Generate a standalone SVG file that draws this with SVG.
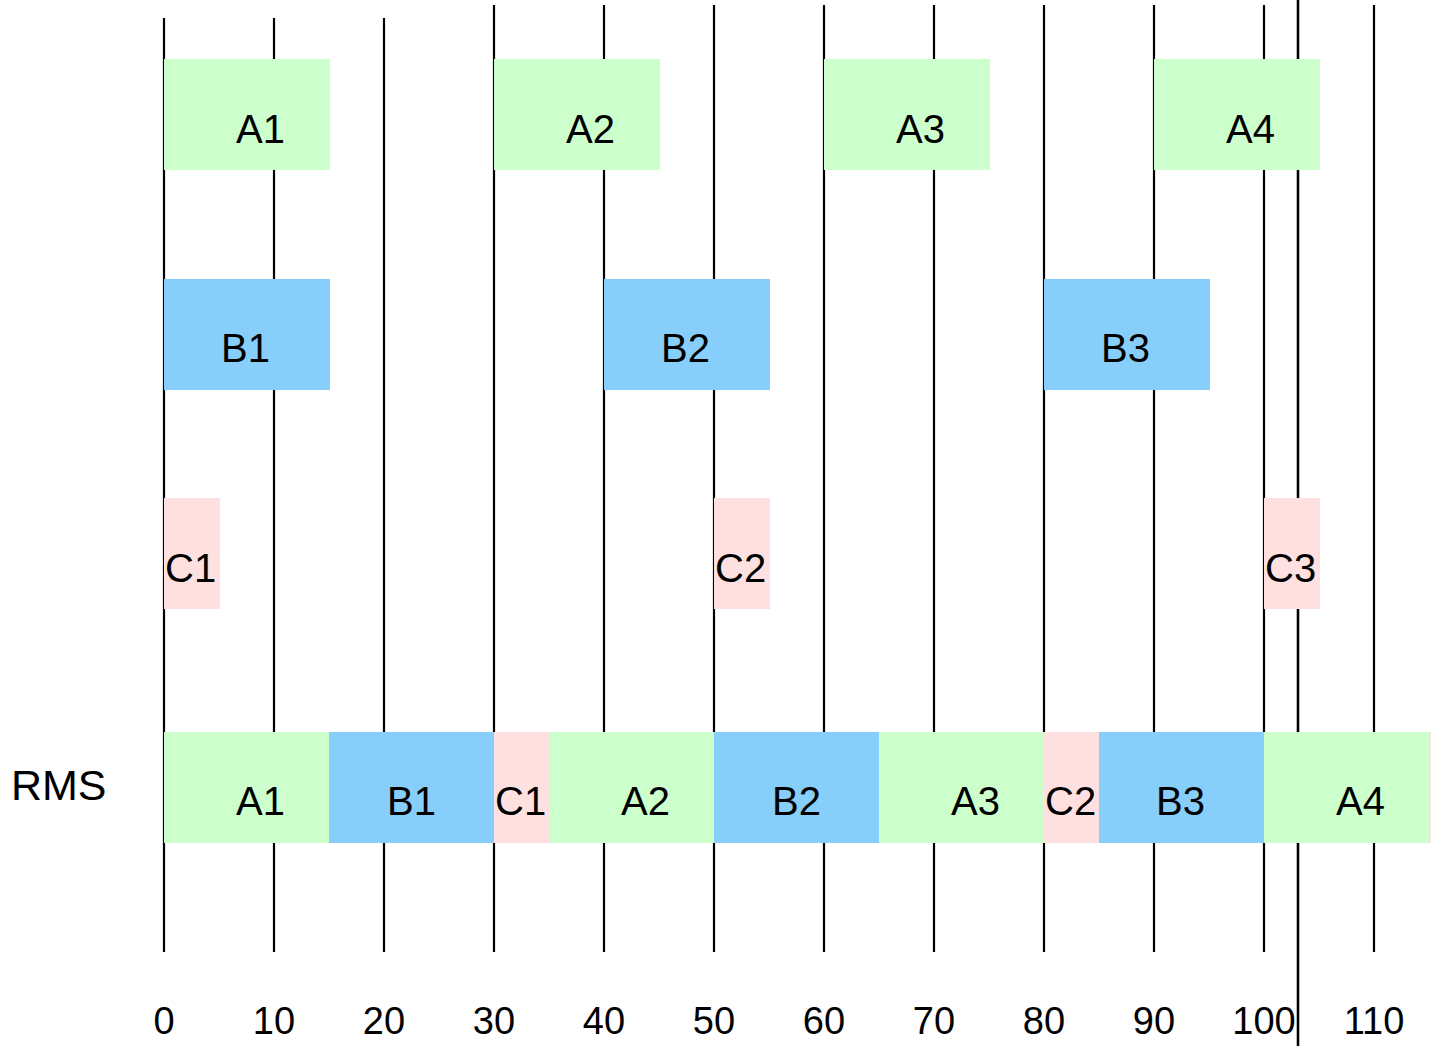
<svg xmlns="http://www.w3.org/2000/svg" width="1431" height="1046" viewBox="0 0 1431 1046">
<style>
.grid line{stroke:#000;stroke-width:2.2}
.a{fill:#CCFFCC}
.b{fill:#87CEFA}
.c{fill:#FFE0E0}
text{font-family:"Liberation Sans",Arial,sans-serif;fill:#000}
.lbl{font-size:40px}
.ax{font-size:38px;text-anchor:middle}
</style>
<rect width="1431" height="1046" fill="#fff"/>
<g id="connectors" class="grid">
<line x1="164" y1="18" x2="164" y2="952"/>
<line x1="274" y1="18" x2="274" y2="952"/>
<line x1="384" y1="18" x2="384" y2="952"/>
<line x1="494" y1="5" x2="494" y2="952"/>
<line x1="604" y1="5" x2="604" y2="952"/>
<line x1="714" y1="5" x2="714" y2="952"/>
<line x1="824" y1="5" x2="824" y2="952"/>
<line x1="934" y1="5" x2="934" y2="952"/>
<line x1="1044" y1="5" x2="1044" y2="952"/>
<line x1="1154" y1="5" x2="1154" y2="952"/>
<line x1="1264" y1="5" x2="1264" y2="952"/>
<line x1="1374" y1="5" x2="1374" y2="952"/>
<line x1="1298" y1="0" x2="1298" y2="1046" style="stroke-width:2.6"/>
</g>
<g id="A1"><rect class="a" x="164" y="59" width="166" height="111"/><text class="lbl" x="236" y="143">A1</text></g>
<g id="A2"><rect class="a" x="494" y="59" width="166" height="111"/><text class="lbl" x="566" y="143">A2</text></g>
<g id="A3"><rect class="a" x="824" y="59" width="166" height="111"/><text class="lbl" x="896" y="143">A3</text></g>
<g id="A4"><rect class="a" x="1154" y="59" width="166" height="111"/><text class="lbl" x="1226" y="143">A4</text></g>
<g id="B1"><rect class="b" x="164" y="279" width="166" height="111"/><text class="lbl" x="221" y="362">B1</text></g>
<g id="B2"><rect class="b" x="604" y="279" width="166" height="111"/><text class="lbl" x="661" y="362">B2</text></g>
<g id="B3"><rect class="b" x="1044" y="279" width="166" height="111"/><text class="lbl" x="1101" y="362">B3</text></g>
<g id="C1"><rect class="c" x="164" y="498" width="56" height="111"/><text class="lbl" x="165" y="582">C1</text></g>
<g id="C2"><rect class="c" x="714" y="498" width="56" height="111"/><text class="lbl" x="715" y="582">C2</text></g>
<g id="C3"><rect class="c" x="1264" y="498" width="56" height="111"/><text class="lbl" x="1265" y="582">C3</text></g>
<g id="rms">
<text x="11" y="800" style="font-size:43px">RMS</text>
<rect class="a" x="164" y="732" width="165" height="111"/>
<rect class="b" x="329" y="732" width="165" height="111"/>
<rect class="c" x="494" y="732" width="55" height="111"/>
<rect class="a" x="549" y="732" width="165" height="111"/>
<rect class="b" x="714" y="732" width="165" height="111"/>
<rect class="a" x="879" y="732" width="165" height="111"/>
<rect class="c" x="1044" y="732" width="55" height="111"/>
<rect class="b" x="1099" y="732" width="165" height="111"/>
<rect class="a" x="1264" y="732" width="165" height="111"/>
<rect class="c" x="1429" y="732" width="55" height="111"/>
<text class="lbl" x="236" y="815">A1</text>
<text class="lbl" x="387" y="815">B1</text>
<text class="lbl" x="495" y="815">C1</text>
<text class="lbl" x="621" y="815">A2</text>
<text class="lbl" x="772" y="815">B2</text>
<text class="lbl" x="951" y="815">A3</text>
<text class="lbl" x="1045" y="815">C2</text>
<text class="lbl" x="1156" y="815">B3</text>
<text class="lbl" x="1336" y="815">A4</text>
</g>
<g id="axis">
<text class="ax" x="164" y="1034">0</text>
<text class="ax" x="274" y="1034">10</text>
<text class="ax" x="384" y="1034">20</text>
<text class="ax" x="494" y="1034">30</text>
<text class="ax" x="604" y="1034">40</text>
<text class="ax" x="714" y="1034">50</text>
<text class="ax" x="824" y="1034">60</text>
<text class="ax" x="934" y="1034">70</text>
<text class="ax" x="1044" y="1034">80</text>
<text class="ax" x="1154" y="1034">90</text>
<text class="ax" x="1264" y="1034">100</text>
<text class="ax" x="1374" y="1034">110</text>
</g>
</svg>
